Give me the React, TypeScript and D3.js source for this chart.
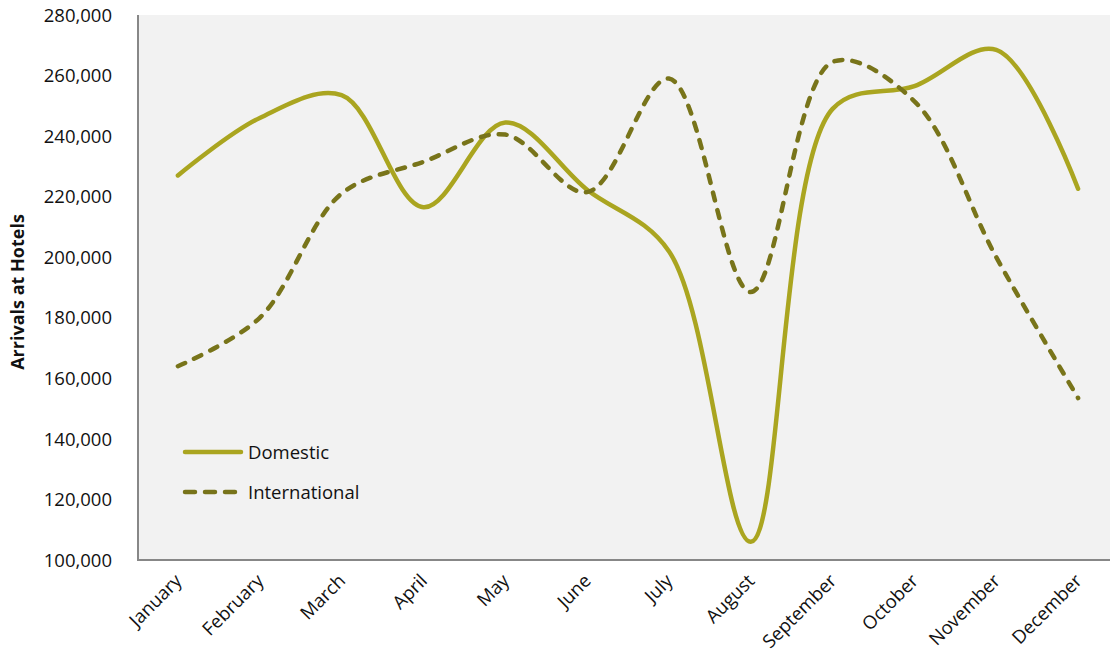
import React from "react";
import * as d3 from "d3";

// Monthly arrivals at hotels
const months = [
  "January", "February", "March", "April", "May", "June",
  "July", "August", "September", "October", "November", "December",
];
const domestic = [227000, 246000, 253500, 216500, 244500, 222300, 202000, 106000, 249000, 256500, 268500, 222600];
const international = [164000, 180000, 221000, 231500, 240500, 221500, 259000, 188500, 264500, 251500, 200000, 153500];
const yTicks = [100000, 120000, 140000, 160000, 180000, 200000, 220000, 240000, 260000, 280000];

const W = 1110;
const H = 654;
const M = { left: 137, right: 1119, top: 15, bottom: 560 };
const FONT = "'Open Sans', 'Noto Sans', sans-serif";
const DOM_COLOR = "#aaa520";
const INT_COLOR = "#78741a";

export default function App() {
  const x = d3.scaleBand<string>().domain(months).range([M.left, M.right]).padding(0);
  const cx = (m: string) => (x(m) as number) + x.bandwidth() / 2;
  const y = d3.scaleLinear().domain([100000, 280000]).range([M.bottom, M.top]);
  const fmt = d3.format(",");

  const line = d3
    .line<number>()
    .x((_, i) => cx(months[i]))
    .y((v) => y(v))
    .curve(d3.curveCatmullRom.alpha(0.5));

  return (
    <svg width={W} height={H} style={{ position: "absolute", left: 0, top: 0, background: "#fff" }} fontFamily={FONT}>
      {/* plot area */}
      <rect x={M.left} y={M.top} width={M.right - M.left} height={M.bottom - M.top} fill="#f2f2f2" />

      {/* y tick labels */}
      {yTicks.map((t) => (
        <text key={t} x={112} y={y(t)} dy="0.36em" textAnchor="end" fontSize={18.5} fill="#111">
          {fmt(t)}
        </text>
      ))}

      {/* axes */}
      <line x1={M.left + 1} x2={M.left + 1} y1={M.top} y2={M.bottom} stroke="#878787" strokeWidth={2} />
      <line x1={M.left} x2={M.right} y1={M.bottom} y2={M.bottom} stroke="#878787" strokeWidth={2} />

      {/* month labels */}
      {months.map((m) => (
        <text
          key={m}
          transform={`translate(${cx(m) + 5},${M.bottom + 22}) rotate(-45)`}
          textAnchor="end"
          fontSize={18.5}
          fill="#111"
        >
          {m}
        </text>
      ))}

      {/* y axis title */}
      <text
        transform={`translate(24,${292}) rotate(-90)`}
        textAnchor="middle"
        fontSize={18}
        fontWeight="bold"
        fill="#111"
      >
        Arrivals at Hotels
      </text>

      {/* series */}
      <path d={line(domestic) ?? ""} fill="none" stroke={DOM_COLOR} strokeWidth={4.5} strokeLinecap="round" strokeLinejoin="round" />
      <path
        d={line(international) ?? ""}
        fill="none"
        stroke={INT_COLOR}
        strokeWidth={4.5}
        strokeDasharray="8 10"
        strokeLinecap="round"
        strokeLinejoin="round"
      />

      {/* legend */}
      <line x1={185} x2={241} y1={452} y2={452} stroke={DOM_COLOR} strokeWidth={4.5} strokeLinecap="round" />
      <text x={248} y={452} dy="0.36em" fontSize={18.5} fill="#111">Domestic</text>
      <line x1={185} x2={241} y1={492} y2={492} stroke={INT_COLOR} strokeWidth={4.5} strokeDasharray="10 10" strokeLinecap="round" />
      <text x={248} y={492} dy="0.36em" fontSize={18.5} fill="#111">International</text>
    </svg>
  );
}
